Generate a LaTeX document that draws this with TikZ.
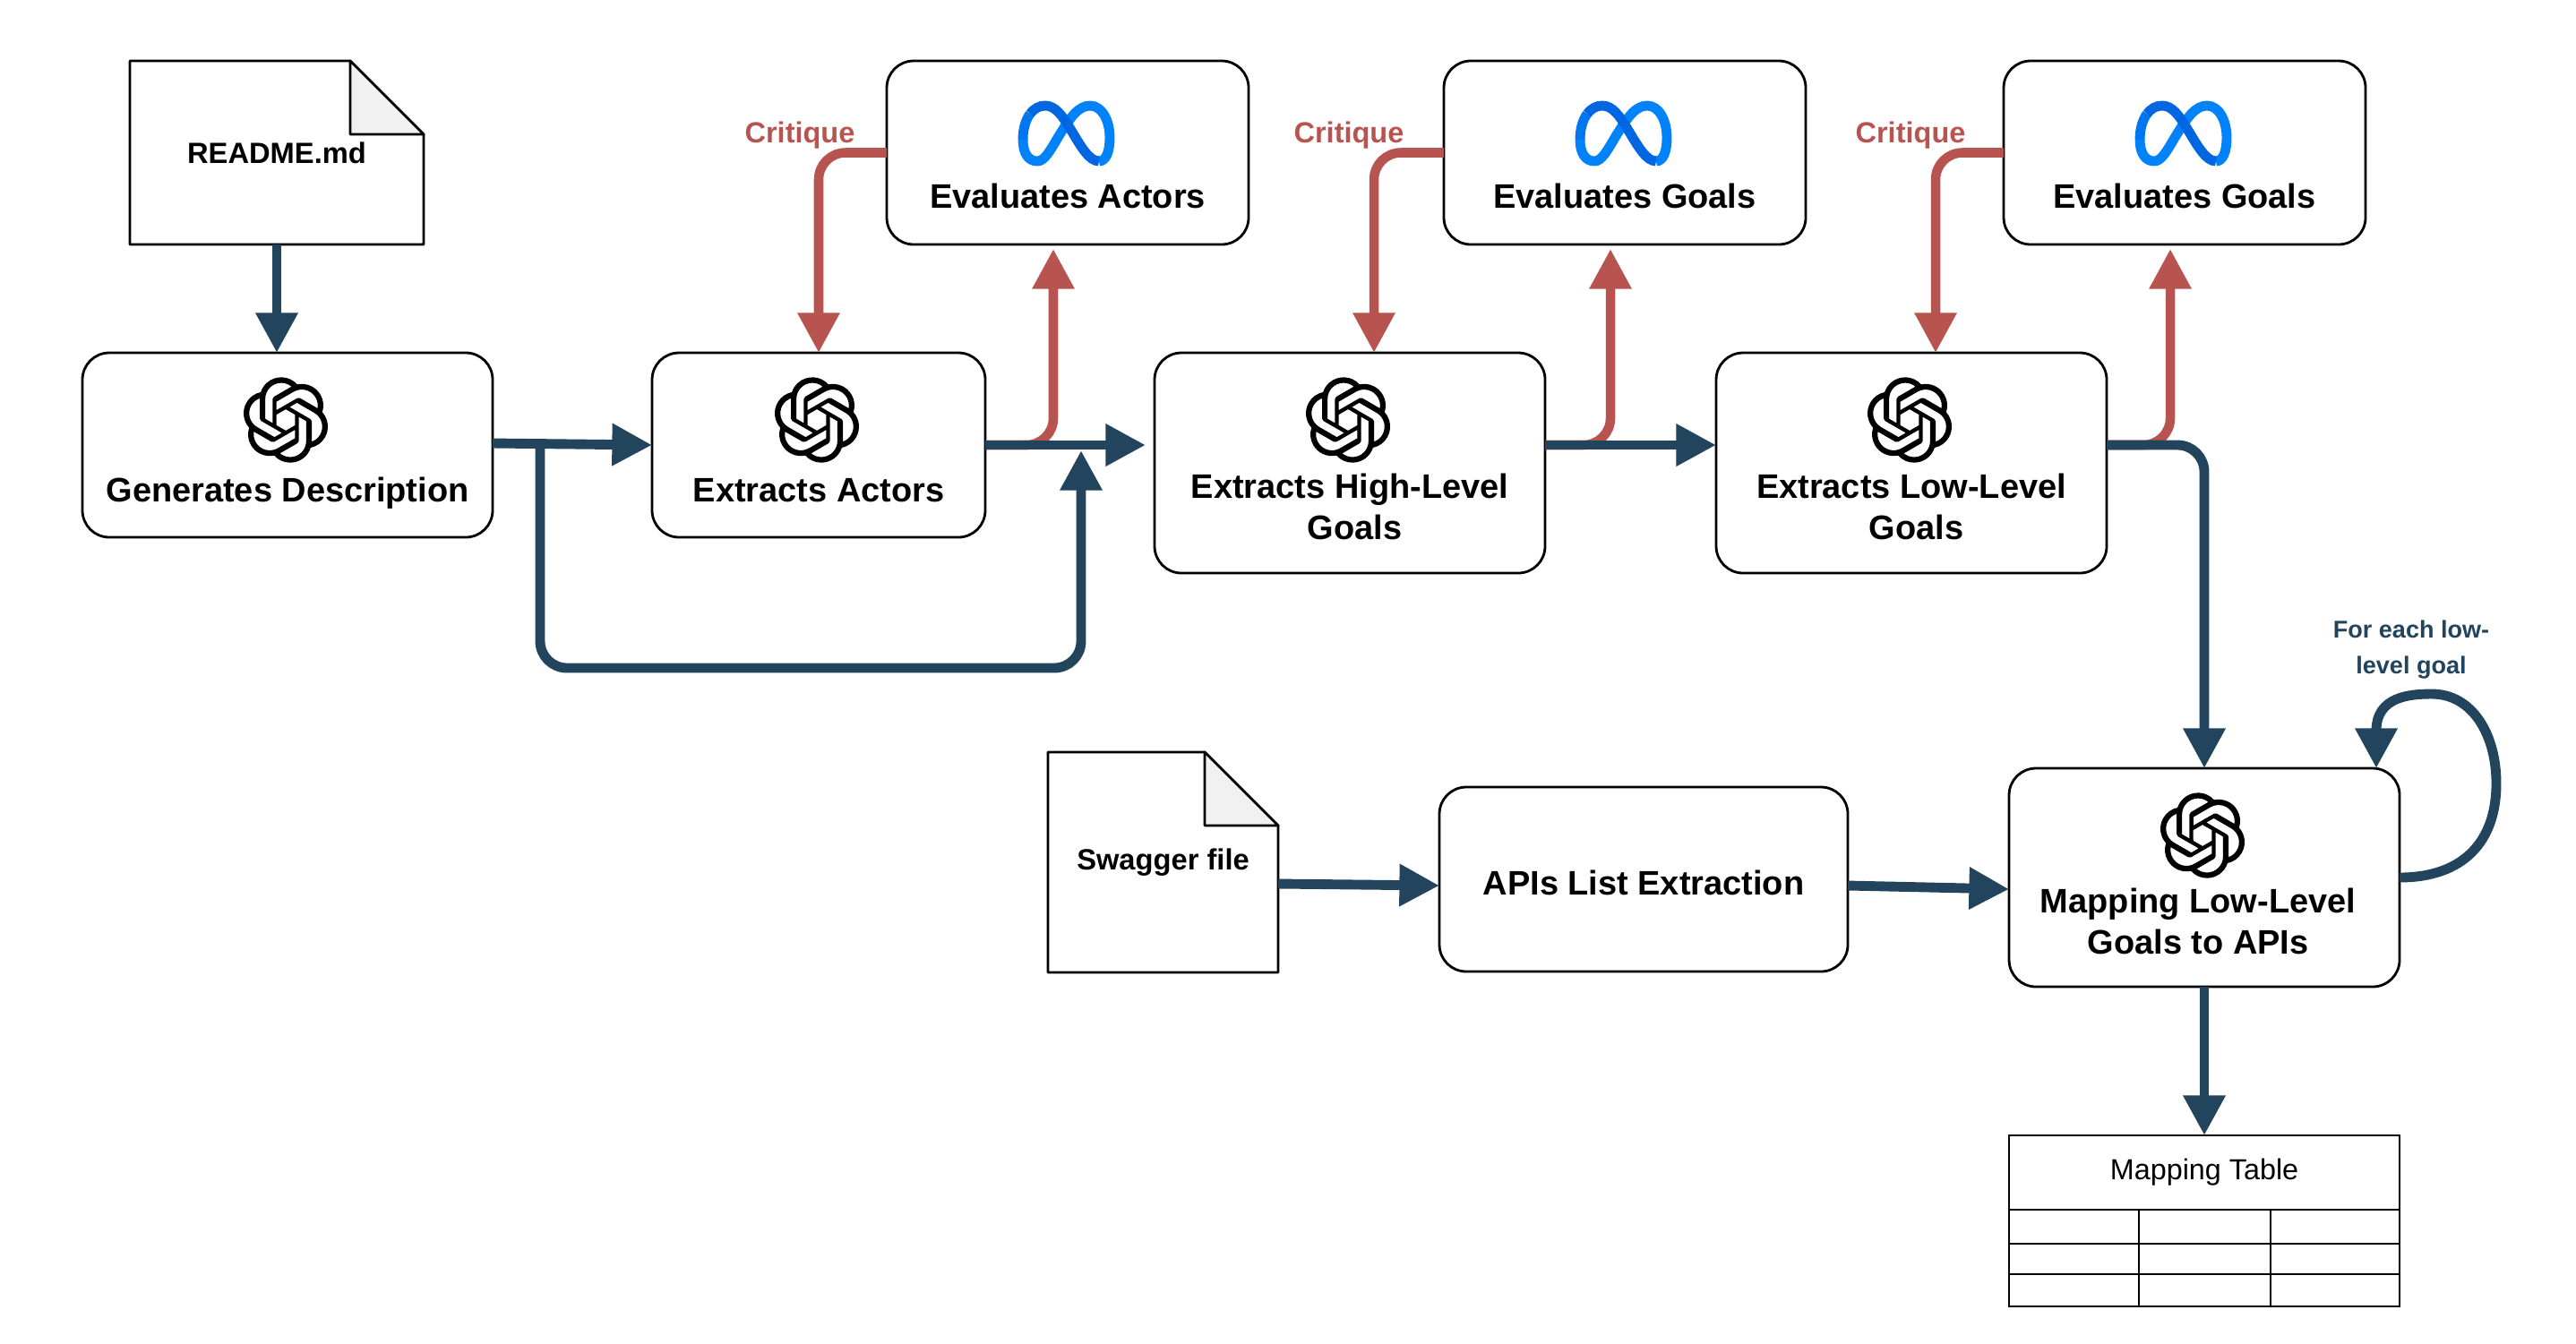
\documentclass[tikz,border=0pt]{standalone}
\usepackage{fontspec}
\setmainfont{Liberation Sans}
\definecolor{flowblue}{RGB}{35, 68, 93}
\definecolor{critred}{RGB}{184, 84, 80}
\definecolor{foldgray}{RGB}{241, 241, 241}
\definecolor{metadark}{RGB}{0, 102, 225}
\definecolor{metamid}{RGB}{0, 118, 240}
\definecolor{metabright}{RGB}{0, 130, 251}
\usetikzlibrary{arrows.meta, positioning, calc, svg.path}
\tikzset{
  flowbox/.style={rounded corners=0.3cm, draw, line width=0.8pt, outer sep=0pt, minimum height=2.06cm},
  tallbox/.style={flowbox, minimum width=4.36cm, minimum height=2.46cm},
  evalbox/.style={flowbox, minimum width=4.04cm, minimum height=2.05cm},
  boxtext/.style={font=\fontsize{10.8}{13}\selectfont\bfseries, align=center, inner sep=0pt},
  docnode/.style={outer sep=0pt, font=\fontsize{9.3}{11}\selectfont\bfseries},
  docline/.style={line width=0.8pt, line join=round},
  critlabel/.style={font=\fontsize{9.25}{11}\selectfont\bfseries, text=critred, inner sep=0pt},
  tablecell/.style={draw, line width=0.8pt, outer sep=0pt, minimum width=4.36cm},
  flowarrow/.style={-{Triangle[length=12.7pt, width=12.7pt]}, line width=3.1pt, flowblue, rounded corners=0.3cm},
  critarrow/.style={-{Triangle[length=12.7pt, width=12.7pt]}, line width=3pt, critred, rounded corners=0.3cm},
  gptlogo/.pic={
    \begin{scope}[scale=1.13, yscale=-1, shift={(-12pt,-12pt)}]
      \fill[black, even odd rule] svg {M22.2819 9.8211 a5.9847 5.9847 0 0 0 -.5157 -4.9108 a6.0462 6.0462 0 0 0 -6.5098 -2.9 A6.0651 6.0651 0 0 0 4.9807 4.1818 a5.9847 5.9847 0 0 0 -3.9977 2.9 a6.0462 6.0462 0 0 0 .7427 7.0966 a5.98 5.98 0 0 0 .511 4.9107 a6.051 6.051 0 0 0 6.5146 2.9001 A5.9847 5.9847 0 0 0 13.2599 24 a6.0557 6.0557 0 0 0 5.7718 -4.2058 a5.9894 5.9894 0 0 0 3.9977 -2.9001 a6.0557 6.0557 0 0 0 -.7475 -7.0729 z
        M13.2599 22.4292 a4.4755 4.4755 0 0 1 -2.8764 -1.0408 l.1419 -.0804 l4.7783 -2.7582 l.3927 -.6813 v-6.7369 l2.02 1.1686 l.038 .052 v5.5826 a4.504 4.504 0 0 1 -4.4945 4.4944 z
        M3.5992 18.3038 a4.4708 4.4708 0 0 1 -.5346 -3.0137 l.142 .0852 l4.783 2.7582 l.7806 0 l5.8428 -3.3685 v2.3324 l-.0332 .0615 L9.74 19.9502 a4.4992 4.4992 0 0 1 -6.1408 -1.6464 z
        M2.3408 7.8956 a4.485 4.485 0 0 1 2.3655 -1.9728 V11.6 l.3879 .6765 l5.8144 3.3543 l-2.0201 1.1685 l-.071 0 l-4.8303 -2.7865 A4.504 4.504 0 0 1 2.3408 7.872 z
        M18.9371 11.7514 L13.1038 8.364 L15.1192 7.2 l.071 0 l4.8303 2.7913 a4.4944 4.4944 0 0 1 -.6765 8.1042 v-5.6772 l-.407 -.667 z
        M20.9478 8.7283 l-.142 -.0852 l-4.7735 -2.7818 l-.7854 0 L9.409 9.2297 V6.8974 l.0284 -.0615 l4.8303 -2.7866 a4.4992 4.4992 0 0 1 6.6802 4.66 z
        M8.3065 12.863 l-2.02 -1.1638 l-.038 -.0567 V6.0742 a4.4992 4.4992 0 0 1 7.3757 -3.4537 l-.142 .0805 L8.704 5.459 l-.3927 .6813 z
        M9.4041 10.4976 l2.602 -1.4998 l2.6069 1.4998 v2.9994 l-2.5974 1.4997 l-2.6067 -1.4997 Z};
    \end{scope}
  },
  metalogo/.pic={
    \begin{scope}[x=0.01cm, y=-0.01cm, line width=3.1pt]
      \draw[metabright] (37,31) .. controls (45,31) and (49,20) .. (49,5) .. controls (49,-15) and (40,-31) .. (27,-31) .. controls (14,-31) and (5,-18) .. (-8,3) .. controls (-18,20) and (-24,31) .. (-32,31) .. controls (-42,31) and (-48,22) .. (-48,7);
      \draw[metamid] (-48,7) .. controls (-48,-5) and (-45,-15) .. (-40,-22);
      \draw[metadark] (-40,-22) .. controls (-35,-28) and (-30,-31) .. (-23,-31) .. controls (-12,-31) and (-4,-20) .. (5,-5) .. controls (17,15) and (26,31) .. (37,31);
    \end{scope}
  },
}
\begin{document}
\begin{tikzpicture}
  \useasboundingbox (0,0) rectangle (28.76,-15);
  % top row and first row of steps
  \node[docnode, minimum width=3.28cm, minimum height=2.05cm] (readme) at (3.09,-1.705) {README.md};
  \node[flowbox, minimum width=4.58cm] (gen) at (3.21,-4.97) {};
  \node[flowbox, minimum width=3.72cm, right=1.78cm of gen] (actors) {};
  \node[tallbox, right=1.89cm of actors.north east, anchor=north west] (hl) {};
  \node[tallbox, right=1.91cm of hl] (ll) {};
  \node[evalbox] (evala) at (11.92,-1.705) {};
  \node[evalbox, right=2.18cm of evala] (evalg) {};
  \node[evalbox, right=2.21cm of evalg] (evalgb) {};
  % lower part
  \node[tallbox, minimum height=2.44cm] (map) at (24.61,-9.80) {};
  \node[flowbox, minimum width=4.56cm, left=1.80cm of map, yshift=-0.02cm] (apis) {};
  \node[docnode, minimum width=2.57cm, minimum height=2.46cm] (swagger) at (12.985,-9.63) {Swagger file};
  \node[tablecell, minimum height=0.83cm, below=1.66cm of map, font=\fontsize{9.2}{11}\selectfont] (maptitle) {Mapping Table};
  \node[tablecell, minimum height=1.08cm, below=0cm of maptitle] (mapbody) {};
  \foreach \r in {0.38,0.72} \draw[line width=0.8pt] ($(mapbody.north west)+(0,-\r)$) -- ($(mapbody.north east)+(0,-\r)$);
  \foreach \c in {1.45,2.92} \draw[line width=0.8pt] ($(mapbody.north west)+(\c,0)$) -- ($(mapbody.south west)+(\c,0)$);
  \foreach \n in {readme,swagger} {
    \draw[docline] (\n.north west) -- ($(\n.north east)+(-0.82,0)$) -- ($(\n.north east)+(0,-0.82)$) -- (\n.south east) -- (\n.south west) -- cycle;
    \draw[docline, fill=foldgray] ($(\n.north east)+(-0.82,0)$) -- ($(\n.north east)+(0,-0.82)$) -- ($(\n.north east)+(-0.82,-0.82)$) -- cycle;
  }
  % box texts and logos
  \foreach \n/\t/\dy in {gen/Generates Description/-0.54, actors/Extracts Actors/-0.51, hl/Extracts High-Level\\\hspace*{0.11cm}Goals/-0.49, ll/Extracts Low-Level\\\hspace*{0.11cm}Goals/-0.49} {
    \node[boxtext] (\n text) at ($(\n)+(0,\dy)$) {\t};
    \pic at ($(\n.north)+(-0.02,-0.75)$) {gptlogo};
  }
  \node[boxtext] (maptext) at ($(map)+(-0.07,-0.49)$) {Mapping Low-Level\\Goals to APIs};
  \pic at ($(map.north)+(-0.02,-0.75)$) {gptlogo};
  \node[boxtext] (apistext) at ($(apis)+(0,-0.04)$) {APIs List Extraction};
  \foreach \n/\t/\dx in {evala/Evaluates Actors/-0.97, evalg/Evaluates Goals/-1.06, evalgb/Evaluates Goals/-1.04} {
    \node[boxtext] (\n text) at ($(\n)+(0,-0.48)$) {\t};
    \pic at ($(\n.north)+(-0.02,-0.81)$) {metalogo};
    \node[critlabel] (\n crit) at ($(\n)+(\dx-2.02,0.19)$) {Critique};
  }
  % critique loops
  \foreach \b/\e/\dx in {actors/evala/0, hl/evalg/0.27, ll/evalgb/0.27} {
    \draw[critarrow] (\e.west) -| ($(\b.north)+(\dx,0)$);
    \draw[critarrow] (\b.east |- actors.east) -| ($(\e.south)+(-0.16,-0.05)$);
  }
  % main flow
  \coordinate (branch) at (6.03,-4.99);
  \coordinate (join) at (12.07,-5.03);
  \coordinate (loopend) at ($(map.north)+(1.92,0)$);
  \draw[flowarrow] (readme.south) -- (readme.south |- gen.north);
  \draw[flowarrow] ($(gen.east)+(0,0.02)$) -- (actors.west);
  \draw[flowarrow] (branch) -- ++(0,-2.47) -| (join);
  \draw[flowarrow, shorten >=0.1cm] (actors.east) -- (actors.east -| hl.west);
  \draw[flowarrow] (hl.east |- actors.east) -- (actors.east -| ll.west);
  \draw[flowarrow] (ll.east |- actors.east) -| (map.north);
  \draw[flowarrow] ($(swagger.east)+(0,-0.24)$) -- ($(apis.west)+(0,-0.07)$);
  \draw[flowarrow] ($(apis.east)+(0,-0.07)$) -- ($(map.west)+(0,-0.13)$);
  \draw[flowarrow] (map.south) -- (maptitle.north);
  \draw[flowarrow, sharp corners] (map.east) .. controls (27.50,-9.80) and (27.87,-9.4) .. (27.87,-8.75) .. controls (27.87,-8.2) and (27.6,-7.75) .. (27.15,-7.75) .. controls (26.9,-7.75) and (26.53,-7.78) .. (loopend);
  \node[font=\fontsize{7.7}{11.4}\selectfont\bfseries, text=flowblue, align=center, inner sep=0pt] (looplabel) at (26.92,-7.26) {For each low-\\level goal};
\end{tikzpicture}
\end{document}
